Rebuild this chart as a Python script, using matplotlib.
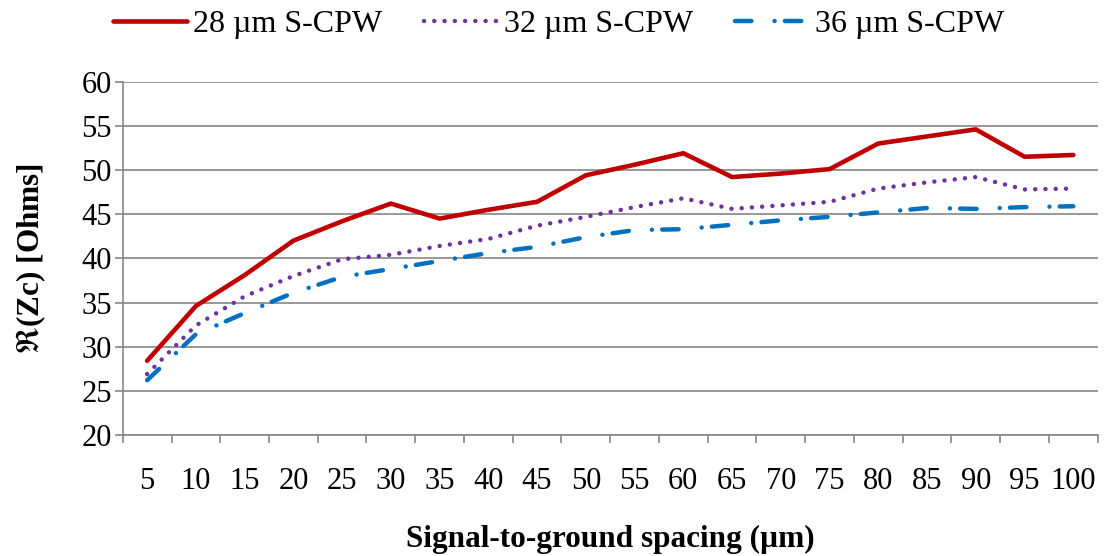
import numpy as np
import matplotlib
matplotlib.use("Agg")
import matplotlib.pyplot as plt

# spacing categories (um)
spacing = ["5", "10", "15", "20", "25", "30", "35", "40", "45", "50",
           "55", "60", "65", "70", "75", "80", "85", "90", "95", "100"]

# Re(Zc) in Ohms
zc_28 = [28.4, 34.6, 38.1, 42.0, 44.2, 46.2, 44.5, 45.5, 46.4, 49.4,
         50.6, 51.9, 49.2, 49.6, 50.1, 53.0, 53.8, 54.6, 51.5, 51.7]
zc_32 = [26.9, 32.4, 35.7, 38.0, 39.9, 40.4, 41.4, 42.2, 43.7, 44.7,
         45.8, 46.8, 45.6, 46.0, 46.4, 47.9, 48.6, 49.2, 47.8, 47.9]
zc_36 = [26.2, 31.4, 33.8, 36.1, 37.9, 38.8, 39.7, 40.6, 41.3, 42.4,
         43.2, 43.3, 43.8, 44.3, 44.7, 45.2, 45.7, 45.6, 45.8, 45.9]

plt.rcParams['font.family'] = ['Liberation Serif', 'DejaVu Serif']
plt.rcParams['mathtext.fontset'] = 'stix'

fig = plt.figure(figsize=(11.2, 5.56), dpi=100)
ax = fig.add_axes([0.1096, 0.2176, 0.8705, 0.6355])

x = np.arange(len(spacing))
grey = '#868686'

ax.plot(x, zc_28, color='#C00000', lw=3.3, solid_joinstyle='round',
        solid_capstyle='round', label='28 µm S-CPW')
ax.plot(x, zc_32, color='#7030A0', lw=3.2, linestyle=(0, (0.01, 2.3)),
        dash_capstyle='round', label='32 µm S-CPW')
ax.plot(x, zc_36, color='#0070C0', lw=3.2, linestyle=(0, (3.7, 5.2, 0.01, 2.3)),
        dash_capstyle='round', label='36 µm S-CPW')

ax.set_xlim(-0.5, len(spacing) - 0.5)
ax.set_ylim(20, 60)
ax.set_yticks(np.arange(20, 61, 5))
ax.yaxis.grid(True, color=grey, lw=1.2)
ax.set_axisbelow(True)

# category boundaries as major ticks, labels at the centres
ax.set_xticks(np.arange(-0.5, len(spacing), 1.0))
ax.set_xticklabels([])
ax.set_xticks(x, minor=True)
ax.set_xticklabels(spacing, minor=True)
ax.tick_params(axis='x', which='major', length=6, width=1.2, color=grey)
ax.tick_params(axis='x', which='minor', length=0, pad=23, labelsize=22)
ax.tick_params(axis='y', length=6, width=1.2, color=grey, labelsize=22, pad=2)

for s in ['top', 'right']:
    ax.spines[s].set_visible(False)
for s in ['left', 'bottom']:
    ax.spines[s].set_color(grey)
    ax.spines[s].set_linewidth(1.2)

ax.set_xlabel('Signal-to-ground spacing (µm)', fontsize=22.5, fontweight='bold', labelpad=21)
ax.set_ylabel(r'$\Re$(Zc) [Ohms]', fontsize=22.5, fontweight='bold', labelpad=24)

ax.legend(loc='upper center', bbox_to_anchor=(0.447, 1.286), ncol=3, frameon=False,
          fontsize=23, handlelength=2.3, handletextpad=0.2, columnspacing=1.3)

fig.savefig('out.png', dpi=100)
